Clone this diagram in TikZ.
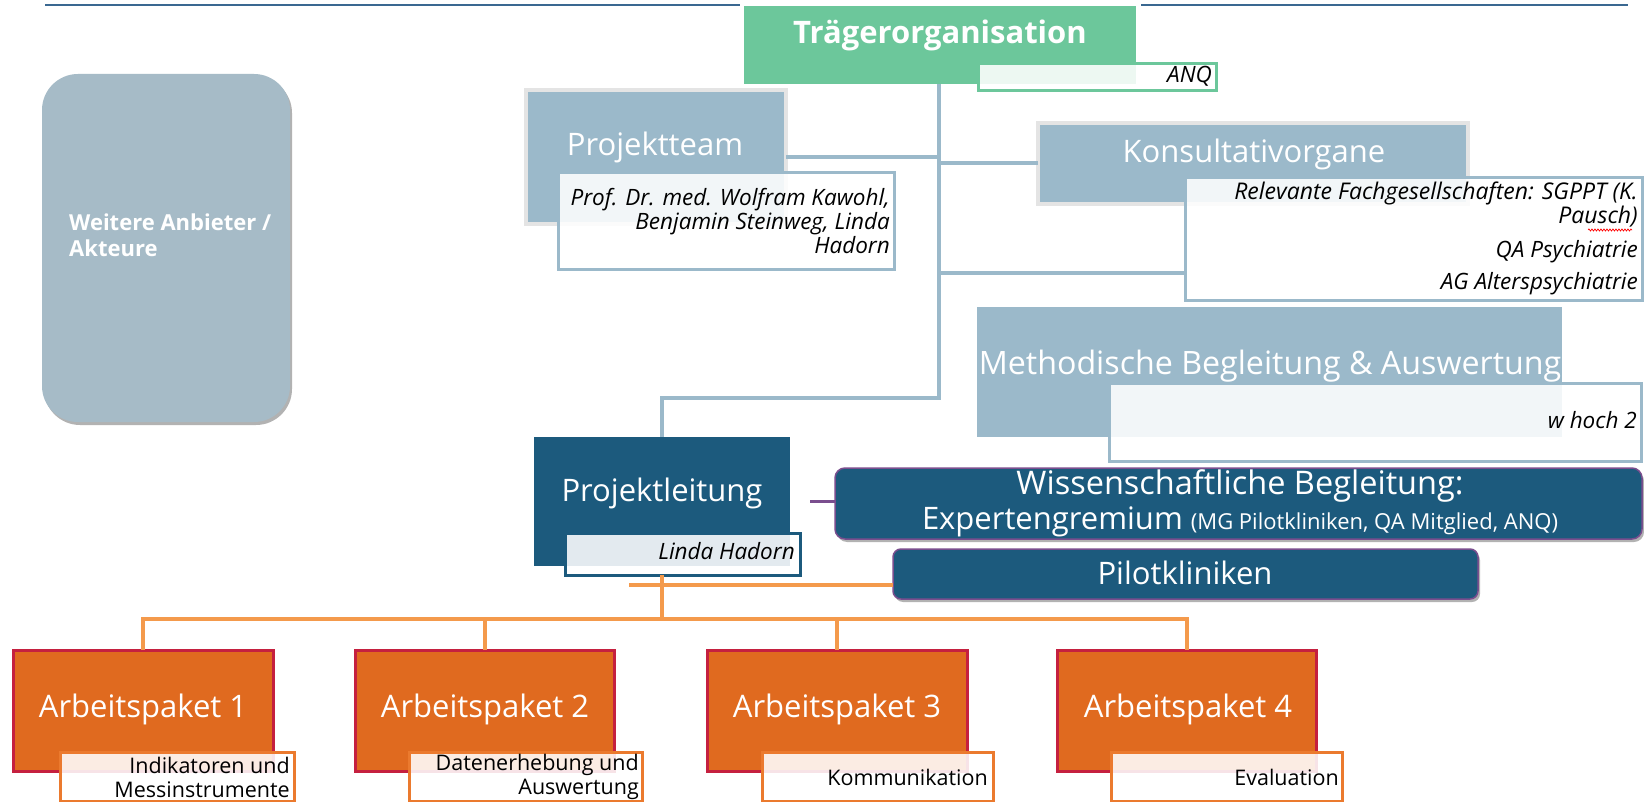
\documentclass[tikz,border=0pt]{standalone}
\usepackage{fontspec}
\setmainfont{Open Sans}
\usetikzlibrary{fit,shadows,decorations.pathmorphing}
\definecolor{tgreen}{HTML}{6CC79B}
\definecolor{lblue}{HTML}{9BB9CA}
\definecolor{dblue}{HTML}{1C5A7D}
\definecolor{purp}{HTML}{7A4E8E}
\definecolor{apor}{HTML}{E06A1F}
\definecolor{crim}{HTML}{C5203F}
\definecolor{orline}{HTML}{F49A4C}
\definecolor{apsubb}{HTML}{EB7A2E}
\definecolor{wgrey}{HTML}{A6BBC7}
\definecolor{topline}{HTML}{3A6891}
\definecolor{greyb}{HTML}{E4E4E4}
\newcommand\bigf{\fontsize{31}{36}\selectfont}
\begin{document}
\begin{tikzpicture}[x=1pt,y=-1pt,
  box/.style={inner sep=0pt, outer sep=0pt},
  sub/.style={box, fill=white, fill opacity=0.88, draw, line width=3pt},
  lab/.style={inner sep=0pt, text=white},
  itl/.style={inner sep=0pt, text=black, font=\fontsize{22.5}{24}\selectfont\itshape, align=right},
  aptx/.style={inner sep=0pt, text=black, font=\fontsize{21.5}{24}\selectfont, align=right},
  apbox/.style={box, fill=apor, draw=crim, line width=3pt},
  apsub/.style={sub, draw=apsubb},
  bline/.style={lblue, line width=4pt},
  oline/.style={orline, line width=4pt},
  shad/.style={drop shadow={shadow xshift=2pt, shadow yshift=-3pt, opacity=0.3, fill=black}}]
\useasboundingbox (0,0) rectangle (1644,802);
\fill[white] (0,0) rectangle (1644,802);

% top lines
\coordinate (tl1) at (45,5); \coordinate (tl2) at (740,5);
\coordinate (tl3) at (1141,5); \coordinate (tl4) at (1628,5);
\draw[topline, line width=2.5pt] (tl1) -- (tl2);
\draw[topline, line width=2.5pt] (tl3) -- (tl4);

% Weitere Anbieter
\node[box, fit={(42,74)(290,422)}, fill=wgrey, rounded corners=36pt, shad] (wa) {};
\node[lab, anchor=west, align=left, font=\fontsize{22}{26}\selectfont\bfseries] (wat) at (69,235) {Weitere Anbieter /\\Akteure};

% Traegerorganisation
\node[box, fit={(744,6)(1136,84)}, fill=tgreen] (tr) {};
\node[lab, font=\bigf\bfseries] (trt) at (940,35) {Trägerorganisation};
\node[sub, draw=tgreen, fit={(978,64)(1216,91)}] (trs) {};
\node[itl, anchor=east] (trst) at (1212,76) {ANQ};

% Projektteam
\node[box, fit={(526,90)(786,224)}, fill=lblue, draw=greyb, line width=4pt] (pt) {};
\node[lab, font=\bigf] (ptt) at (655,147) {Projektteam};
\node[sub, draw=lblue, fit={(558,173)(894,270)}] (pts) {};
\node[itl, anchor=east] (ptst) at (890,221) {Prof. Dr. med. Wolfram Kawohl,\\Benjamin Steinweg, Linda\\Hadorn};

% Konsultativorgane
\node[box, fit={(1038,123)(1468,204)}, fill=lblue, draw=greyb, line width=4pt] (ko) {};
\node[lab, font=\bigf] (kot) at (1254,154) {Konsultativorgane};
\node[sub, draw=lblue, fit={(1185,178)(1642,301)}] (kos) {};
\node[itl, anchor=east, font=\fontsize{23}{24}\selectfont\itshape] (kos1) at (1638,205) {Relevante Fachgesellschaften: SGPPT (K.\\Pausch)};
\node[itl, anchor=east] (kos2) at (1638,252) {QA Psychiatrie};
\node[itl, anchor=east] (kos3) at (1638,284) {AG Alterspsychiatrie};
\coordinate (sq1) at (1588,230); \coordinate (sq2) at (1632,230);
\draw[red, line width=0.7pt, decorate, decoration={snake, amplitude=1pt, segment length=3pt}] (sq1) -- (sq2);

% Methodische Begleitung
\node[box, fit={(977,307)(1562,437)}, fill=lblue] (me) {};
\node[lab, font=\fontsize{32.2}{38}\selectfont] (met) at (1270,366) {Methodische Begleitung \& Auswertung};
\node[sub, draw=lblue, fit={(1109,383)(1641,461)}] (mes) {};
\node[itl, anchor=east] (mest) at (1637,420) {w hoch 2};

% Projektleitung
\node[box, fit={(534,437)(790,566)}, fill=dblue] (pl) {};
\node[lab, font=\bigf] (plt) at (662,493) {Projektleitung};
\node[sub, draw=dblue, fit={(565,533)(800,575)}] (pls) {};
\node[itl, anchor=east] (plst) at (795,551) {Linda Hadorn};

% Wissenschaftliche Begleitung
\node[box, fit={(835,468)(1642,539)}, fill=dblue, draw=purp, line width=1.5pt, rounded corners=10pt, shad] (wb) {};
\node[lab, font=\fontsize{32.5}{38}\selectfont] (wbt1) at (1240,486) {Wissenschaftliche Begleitung:};
\node[lab, font=\bigf] (wbt2) at (1240,522) {Expertengremium {\fontsize{22}{24}\selectfont (MG Pilotkliniken, QA Mitglied, ANQ)}};

% Pilotkliniken
\node[box, fit={(893,549)(1478,599)}, fill=dblue, draw=purp, line width=1.5pt, rounded corners=8pt, shad] (pk) {};
\node[lab, font=\bigf] (pkt) at (1185,573) {Pilotkliniken};

% Arbeitspakete
\node[apbox, fit={(13,650)(273,771)}] (ap1) {};
\node[lab, font=\bigf] (ap1t) at (143,709) {Arbeitspaket 1};
\node[apsub, fit={(60,752)(294,801)}] (ap1s) {};
\node[aptx, anchor=east] (ap1st) at (290,777) {Indikatoren und\\Messinstrumente};

\node[apbox, fit={(355,650)(614,771)}] (ap2) {};
\node[lab, font=\bigf] (ap2t) at (485,709) {Arbeitspaket 2};
\node[apsub, fit={(409,752)(642,801)}] (ap2s) {};
\node[aptx, anchor=east] (ap2st) at (639,777) {Datenerhebung und\\Auswertung};

\node[apbox, fit={(707,650)(967,771)}] (ap3) {};
\node[lab, font=\bigf] (ap3t) at (837,709) {Arbeitspaket 3};
\node[apsub, fit={(762,752)(993,801)}] (ap3s) {};
\node[aptx, anchor=east] (ap3st) at (988,777) {Kommunikation};

\node[apbox, fit={(1057,650)(1316,771)}] (ap4) {};
\node[lab, font=\bigf] (ap4t) at (1188,709) {Arbeitspaket 4};
\node[apsub, fit={(1111,752)(1342,801)}] (ap4s) {};
\node[aptx, anchor=east] (ap4st) at (1339,777) {Evaluation};

% connectors
\coordinate (trunk) at (939,398);
\draw[bline] (tr.south -| trunk) -- (trunk) -| (pl.north);
\draw[bline] (pt.east) -- (pt.east -| trunk);
\draw[bline] (ko.west) -- (ko.west -| trunk);
\coordinate (kl) at (939,273);
\draw[bline] (kl) -- (kl -| kos.west);
\draw[purp, line width=3pt] ([xshift=20pt]pl.east) -- (pl.east -| wb.west);
\coordinate (bus) at (662,619);
\draw[oline] (pls.south -| pl.south) -- (bus);
\draw[oline] (ap1.north) |- (bus -| ap4.north) -- (ap4.north);
\draw[oline] (ap2.north) -- (ap2.north |- bus);
\draw[oline] (ap3.north) -- (ap3.north |- bus);
\coordinate (pkl) at (629,585);
\draw[oline] (pkl) -- (pkl -| pk.west);
\end{tikzpicture}
\end{document}
